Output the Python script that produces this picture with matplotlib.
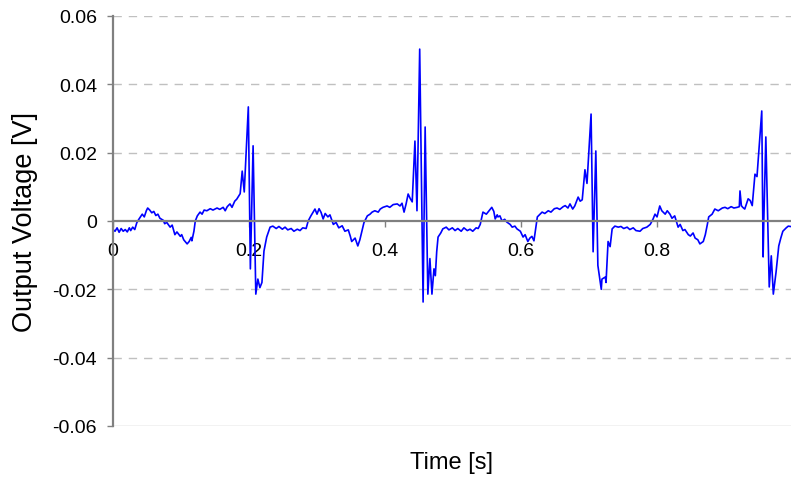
import matplotlib
matplotlib.use("Agg")
import matplotlib.pyplot as plt

plt.rcParams['font.family'] = ['Liberation Sans', 'DejaVu Sans']

# time [s] and output voltage [V]
time_s = [
    0.000, 0.003, 0.006, 0.009, 0.012, 0.015, 0.018, 0.021, 0.024, 0.026,
    0.029, 0.032, 0.035, 0.038, 0.043, 0.046, 0.049, 0.051, 0.054, 0.057,
    0.060, 0.063, 0.066, 0.069, 0.074, 0.076, 0.079, 0.084, 0.087, 0.091,
    0.094, 0.099, 0.101, 0.104, 0.109, 0.112, 0.115, 0.116, 0.119, 0.121,
    0.124, 0.128, 0.131, 0.134, 0.138, 0.143, 0.147, 0.153, 0.157, 0.162,
    0.165, 0.168, 0.172, 0.175, 0.179, 0.182, 0.187, 0.190, 0.193, 0.199,
    0.202, 0.206, 0.210, 0.213, 0.216, 0.219, 0.222, 0.226, 0.231, 0.235,
    0.240, 0.244, 0.249, 0.253, 0.257,
    0.262, 0.266, 0.271, 0.275, 0.279, 0.284, 0.287, 0.291, 0.294, 0.297,
    0.300, 0.303, 0.306, 0.309, 0.312, 0.316, 0.319, 0.324, 0.328, 0.332,
    0.337, 0.341, 0.346, 0.349, 0.351, 0.356, 0.360, 0.363, 0.366, 0.369,
    0.374, 0.378, 0.381, 0.385, 0.390, 0.393, 0.397, 0.403, 0.407, 0.412,
    0.418, 0.422, 0.425, 0.428, 0.431, 0.434, 0.437, 0.440, 0.444, 0.447,
    0.451, 0.456, 0.459, 0.463, 0.466, 0.469, 0.472, 0.474, 0.476, 0.478,
    0.482, 0.485, 0.490, 0.494, 0.499, 0.503,
    0.507, 0.512, 0.516, 0.521, 0.525, 0.529, 0.534, 0.537, 0.540, 0.544,
    0.549, 0.553, 0.557, 0.560, 0.562, 0.565, 0.566, 0.569, 0.572, 0.576,
    0.579, 0.584, 0.587, 0.591, 0.594, 0.599, 0.603, 0.606, 0.610, 0.613,
    0.616, 0.619, 0.621, 0.624, 0.628, 0.631, 0.635, 0.640, 0.644, 0.649,
    0.653, 0.657, 0.662, 0.665, 0.669, 0.672, 0.676, 0.679, 0.684, 0.687,
    0.690, 0.693, 0.694, 0.697, 0.703, 0.706, 0.710, 0.713, 0.718, 0.719,
    0.724, 0.725, 0.728, 0.731, 0.734, 0.738, 0.743,
    0.747, 0.751, 0.756, 0.760, 0.765, 0.769, 0.775, 0.779, 0.785, 0.790,
    0.794, 0.797, 0.800, 0.804, 0.807, 0.812, 0.815, 0.819, 0.822, 0.826,
    0.831, 0.834, 0.838, 0.841, 0.846, 0.849, 0.853, 0.856, 0.860, 0.863,
    0.868, 0.871, 0.874, 0.876, 0.881, 0.885, 0.890, 0.896, 0.900, 0.904,
    0.909, 0.913, 0.918, 0.921, 0.922, 0.924, 0.926, 0.929, 0.934, 0.937,
    0.940, 0.944, 0.947, 0.954, 0.956, 0.957, 0.960, 0.965, 0.968, 0.971,
    0.975, 0.979, 0.982, 0.985, 0.990, 0.993, 0.996,
]
voltage_v = [
    -0.0025, -0.0030, -0.0020, -0.0033, -0.0022, -0.0030, -0.0025, -0.0032, -0.0020, -0.0028,
    -0.0018, -0.0025, -0.0005, 0.0005, 0.0020, 0.0012, 0.0030, 0.0038, 0.0032, 0.0024,
    0.0028, 0.0016, 0.0020, 0.0008, 0.0002, -0.0008, -0.0004, -0.0018, -0.0012, -0.0040,
    -0.0032, -0.0045, -0.0040, -0.0055, -0.0067, -0.0060, -0.0048, -0.0058, -0.0030, 0.0000,
    0.0015, 0.0026, 0.0020, 0.0032, 0.0030, 0.0036, 0.0032, 0.0038, 0.0034, 0.0040,
    0.0030, 0.0042, 0.0050, 0.0040, 0.0058, 0.0064, 0.0080, 0.0146, 0.0085, 0.0334,
    -0.0140, 0.0220, -0.0214, -0.0170, -0.0195, -0.0180, -0.0088, -0.0047, -0.0018, -0.0015,
    -0.0022, -0.0016, -0.0024, -0.0018, -0.0026,
    -0.0022, -0.0030, -0.0024, -0.0028, -0.0020, -0.0022, 0.0000, 0.0015, 0.0025, 0.0035,
    0.0020, 0.0036, 0.0025, 0.0006, 0.0022, 0.0012, 0.0018, -0.0010, -0.0004, -0.0020,
    -0.0014, -0.0030, -0.0026, -0.0045, -0.0060, -0.0050, -0.0073, -0.0055, -0.0030, -0.0005,
    0.0015, 0.0020, 0.0026, 0.0030, 0.0026, 0.0035, 0.0040, 0.0044, 0.0040, 0.0048,
    0.0050, 0.0044, 0.0052, 0.0026, 0.0050, 0.0079, 0.0066, 0.0056, 0.0234, 0.0030,
    0.0503, -0.0237, 0.0275, -0.0214, -0.0110, -0.0214, -0.0140, -0.0160, -0.0090, -0.0047,
    -0.0035, -0.0023, -0.0018, -0.0026, -0.0020, -0.0028,
    -0.0022, -0.0030, -0.0020, -0.0028, -0.0024, -0.0030, -0.0020, -0.0022, -0.0010, 0.0026,
    0.0020, 0.0030, 0.0040, 0.0028, 0.0006, 0.0018, 0.0012, 0.0015, 0.0000, 0.0005,
    -0.0003, -0.0010, -0.0018, -0.0015, -0.0023, -0.0030, -0.0047, -0.0040, -0.0060, -0.0050,
    -0.0045, -0.0058, -0.0030, 0.0012, 0.0020, 0.0026, 0.0022, 0.0030, 0.0026, 0.0036,
    0.0038, 0.0034, 0.0042, 0.0045, 0.0038, 0.0050, 0.0035, 0.0044, 0.0070, 0.0058,
    0.0062, 0.0130, 0.0150, 0.0110, 0.0313, -0.0090, 0.0205, -0.0130, -0.0200, -0.0170,
    -0.0164, -0.0180, -0.0060, -0.0075, -0.0023, -0.0015, -0.0018,
    -0.0016, -0.0022, -0.0018, -0.0025, -0.0020, -0.0028, -0.0030, -0.0022, -0.0018, -0.0010,
    0.0005, 0.0020, 0.0012, 0.0044, 0.0030, 0.0020, 0.0030, 0.0020, 0.0008, 0.0015,
    -0.0018, -0.0010, -0.0028, -0.0025, -0.0040, -0.0044, -0.0035, -0.0050, -0.0055, -0.0067,
    -0.0060, -0.0040, -0.0010, 0.0012, 0.0020, 0.0035, 0.0030, 0.0038, 0.0040, 0.0036,
    0.0042, 0.0038, 0.0040, 0.0042, 0.0088, 0.0045, 0.0040, 0.0035, 0.0065, 0.0060,
    0.0045, 0.0137, 0.0130, 0.0322, -0.0105, 0.0000, 0.0246, -0.0193, -0.0102, -0.0214,
    -0.0150, -0.0073, -0.0050, -0.0030, -0.0020, -0.0015, -0.0016,
]

x_ticks = [0, 0.2, 0.4, 0.6, 0.8]
x_labels = ["0", "0.2", "0.4", "0.6", "0.8"]
y_ticks = [-0.06, -0.04, -0.02, 0, 0.02, 0.04, 0.06]
y_labels = ["-0.06", "-0.04", "-0.02", "0", "0.02", "0.04", "0.06"]

fig = plt.figure(figsize=(7.91, 4.81), dpi=100)
ax = fig.add_axes([113/791, 1 - 427/481, 1 - 113/791, (427 - 17)/481])

ax.plot(time_s, voltage_v, color="#0000ff", lw=1.2)

ax.set_xlim(0, 0.997)
ax.set_ylim(-0.06, 0.06)

# dashed grid, solid line along the bottom
for yv in y_ticks:
    if yv == 0:
        continue
    ls = "-" if yv == -0.06 else (0, (6, 5))
    ax.axhline(yv, color="#c0c0c0", lw=1.0, ls=ls, zorder=0)

for side in ["top", "right"]:
    ax.spines[side].set_visible(False)
ax.spines["bottom"].set_position(("data", 0))
ax.spines["bottom"].set_color("#808080")
ax.spines["bottom"].set_linewidth(1.6)
ax.spines["left"].set_color("#808080")
ax.spines["left"].set_linewidth(1.6)

ax.set_xticks(x_ticks)
ax.set_xticklabels(x_labels)
ax.set_yticks(y_ticks)
ax.set_yticklabels(y_labels)
ax.tick_params(axis="x", direction="out", length=4, width=1, color="#808080",
               labelsize=14, pad=11)
ax.tick_params(axis="y", direction="out", length=4.5, width=1, color="#808080",
               labelsize=14, pad=7)

fig.text(25/791, 1 - 222/481, "Output Voltage [V]", rotation=90,
         ha="center", va="center", fontsize=19.5)
fig.text(451/791, 1 - 463/481, "Time [s]", ha="center", va="center", fontsize=17)

fig.savefig("out.png", dpi=100)
